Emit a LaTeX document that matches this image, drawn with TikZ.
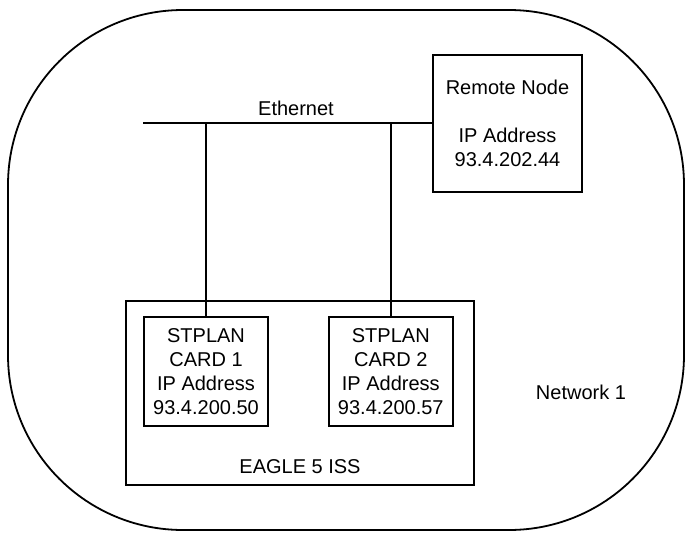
\documentclass[tikz,border=0pt]{standalone}
\usepackage{fontspec}
\setmainfont{Liberation Sans}
\usepackage{tikz}
\usetikzlibrary{positioning}

\begin{document}
\begin{tikzpicture}[
    x=1pt, y=-1pt,
    node distance=59pt,
    font=\fontsize{20pt}{24pt}\selectfont,
    box/.style={draw, line width=1.8pt, align=center, inner sep=0pt},
    cardbox/.style={box, minimum width=124pt, minimum height=109pt},
    link/.style={line width=1.8pt}
]
    \useasboundingbox (0,0) rectangle (686,533);
    \draw[link, rounded corners=175pt] (8,10) rectangle (684,530);

    \node[box, minimum width=149pt, minimum height=137pt] (remote) at (507.5,123.5) {Remote Node\\[24pt]IP Address\\93.4.202.44};
    \node[box, minimum width=348pt, minimum height=184pt] (eagle) at (300,393) {};
    \node[cardbox] (card1) at (206,371.5) {STPLAN\\CARD 1\\IP Address\\93.4.200.50};
    \node[cardbox, right=of card1] (card2) {STPLAN\\CARD 2\\IP Address\\93.4.200.57};
    \node (eaglename) at (300,467) {EAGLE 5 ISS};
    \node (network) at (581,392) {Network 1};

    \coordinate (ethleft) at (143,123);
    \node (ethname) at (296,108) {Ethernet};

    \draw[link] (ethleft) -- (ethleft -| remote.west);
    \draw[link] (card1.north) -- (card1.north |- ethleft);
    \draw[link] (card2.north) -- (card2.north |- ethleft);
\end{tikzpicture}
\end{document}
